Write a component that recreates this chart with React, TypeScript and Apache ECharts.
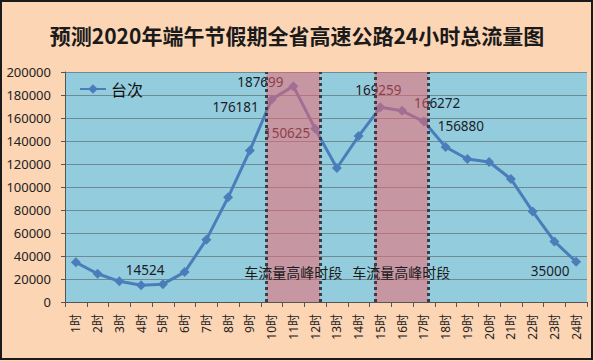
import React, { useEffect, useRef } from "react";
import * as echarts from "echarts";

const categories = ["1时","2时","3时","4时","5时","6时","7时","8时","9时","10时","11时","12时","13时","14时","15时","16时","17时","18时","19时","20时","21时","22时","23时","24时"];
const traffic = [34500, 24600, 18000, 14524, 15500, 26000, 54200, 91000, 131800, 176181, 187699, 150625, 116500, 144300, 169259, 166272, 156880, 134800, 124300, 121700, 107000, 78800, 52700, 35000];
const labeledIndices = [3, 9, 10, 11, 14, 15, 16, 23];
const peakPeriods = [[9.27, 11.72], [14.25, 16.68]];
const peakLabel = "车流量高峰时段";
const seriesName = "台次";
const titleText = "预测2020年端午节假期全省高速公路24小时总流量图";

const labelOffsets: Record<number, [number, number]> = {
  3: [4, -15],
  9: [-36, 8],
  10: [-33, -4],
  11: [-28, 4],
  14: [-2, -17],
  15: [35, -8],
  16: [37, 4],
  23: [-26, 9],
};

export default function App() {
  const ref = useRef<HTMLDivElement>(null);
  useEffect(() => {
    const chart = echarts.init(ref.current!, null, { renderer: "svg" });
    const font = "'Noto Sans', 'Noto Sans CJK SC', sans-serif";
    const data = traffic.map((v, i) => {
      if (labeledIndices.indexOf(i) >= 0) {
        return {
          value: v,
          label: {
            show: true,
            position: "inside",
            offset: labelOffsets[i],
            formatter: String(v),
            color: "#1c1c28",
            fontSize: 13.5,
            fontFamily: font,
          },
        };
      }
      return v;
    });
    chart.setOption({
      animation: false,
      backgroundColor: "#FCD5B4",
      title: {
        text: titleText,
        left: "center",
        top: 19,
        textStyle: { fontSize: 21, fontWeight: "bold", color: "#1a1a1a", fontFamily: "'Noto Sans CJK SC', sans-serif" },
      },
      legend: {
        data: [seriesName],
        left: 74,
        top: 76,
        itemWidth: 26,
        itemHeight: 12,
        textStyle: { fontSize: 16, color: "#111", fontFamily: "'Noto Sans CJK SC', sans-serif" },
      },
      grid: {
        left: 65,
        right: 7,
        top: 72,
        bottom: 59,
        show: true,
        backgroundColor: "#93CDDD",
        borderWidth: 0,
      },
      xAxis: [
        {
          type: "category",
          data: categories,
          boundaryGap: true,
          axisLine: { lineStyle: { color: "#555", width: 1 } },
          axisTick: { show: true, length: 5, lineStyle: { color: "#555" } },
          axisLabel: { rotate: 90, fontSize: 12, color: "#222", margin: 12, fontFamily: font },
        },
        { type: "value", min: 0, max: 24, show: false },
      ],
      yAxis: {
        type: "value",
        min: 0,
        max: 200000,
        interval: 20000,
        axisLine: { show: true, lineStyle: { color: "#555" } },
        axisTick: { show: true, length: 4, lineStyle: { color: "#555" } },
        axisLabel: { fontSize: 13, color: "#222", margin: 14, fontFamily: font, formatter: (v: number) => String(v) },
        splitLine: { lineStyle: { color: "#6f8a92", width: 1 } },
      },
      series: [
        {
          name: seriesName,
          type: "line",
          data,
          z: 2,
          symbol: "diamond",
          symbolSize: 10,
          lineStyle: { color: "#4A7EBB", width: 3 },
          itemStyle: { color: "#4A7EBB" },
        },
        {
          type: "line",
          xAxisIndex: 1,
          data: [],
          z: 5,
          silent: true,
          markArea: {
            silent: true,
            z: 10,
            itemStyle: { color: "rgba(250,95,105,0.5)" },
            label: {
              show: true,
              position: "insideBottom",
              distance: 23,
              formatter: peakLabel,
              color: "#1a1a1a",
              fontSize: 14,
              fontFamily: "'Noto Sans CJK SC', sans-serif",
            },
            data: peakPeriods.map((p) => [{ xAxis: p[0] }, { xAxis: p[1] }]),
          },
          markLine: {
            silent: true,
            z: 11,
            symbol: "none",
            label: { show: false },
            lineStyle: { type: [3, 3], width: 3, color: "#3c3c46" },
            data: peakPeriods.flat().map((x) => ({ xAxis: x })),
          },
        },
      ],
      graphic: [
        {
          type: "rect",
          shape: { x: 1, y: 1, width: 591, height: 358 },
          style: { fill: "none", stroke: "#1a1a1a", lineWidth: 2 },
          silent: true,
          z: 100,
        },
      ],
    });
    return () => chart.dispose();
  }, []);
  return <div ref={ref} style={{ position: "fixed", left: 0, top: 0, width: 594, height: 361 }} />;
}
